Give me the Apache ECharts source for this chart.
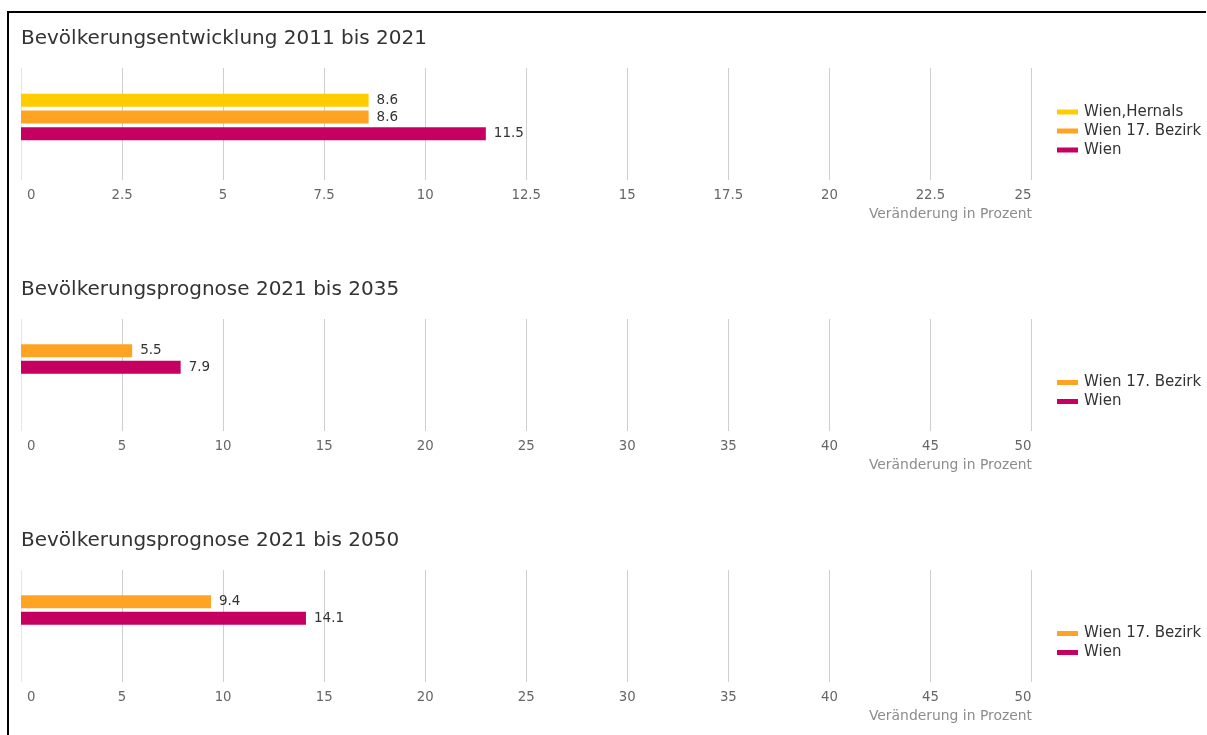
<!DOCTYPE html>
<html lang="de">
<head>
<meta charset="utf-8">
<title>Bevölkerungsentwicklung und -prognose</title>
<script src="https://cdn.jsdelivr.net/npm/echarts@6/dist/echarts.min.js"></script>
<style>
  html, body { margin: 0; padding: 0; background: #fff; }
  #chart { width: 1207px; height: 735px; }
  #frame {
    position: absolute; left: 7px; top: 11px; right: 1px; bottom: 0;
    border-left: 2px solid #000; border-top: 2px solid #000;
    pointer-events: none;
  }
</style>
</head>
<body>
<div id="chart"></div>
<div id="frame"></div>
<script>
// Panel titles and the shared axis caption
const panelTitles = [
  'Bevölkerungsentwicklung 2011 bis 2021',
  'Bevölkerungsprognose 2021 bis 2035',
  'Bevölkerungsprognose 2021 bis 2050'
];
const axisCaption = 'Veränderung in Prozent';

// Regions (series) and their colours
const regionNames = ['Wien,Hernals', 'Wien 17. Bezirk', 'Wien'];
const regionColors = ['#FFCC00', '#FFA322', '#C50061'];

// Change in percent per panel (null = not available for that region)
const entwicklung2011bis2021 = [8.6, 8.6, 11.5];
const prognose2021bis2035 = [null, 5.5, 7.9];
const prognose2021bis2050 = [null, 9.4, 14.1];
const panelValues = [entwicklung2011bis2021, prognose2021bis2035, prognose2021bis2050];

// Value axis range per panel
const axisMax = [25, 50, 50];
const axisInterval = [2.5, 5, 5];

const FONT = 'DejaVu Sans';
const panelTop = [68, 319, 570];
const gridHeight = 112;
const gridLeft = 21;
const gridRight = 175.5;

const chart = echarts.init(document.getElementById('chart'), null, { renderer: 'canvas' });

const grids = [], xAxes = [], yAxes = [], series = [], titles = [], legends = [];

panelTitles.forEach((t, p) => {
  const top = panelTop[p];
  const values = panelValues[p];
  const nLines = Math.round(axisMax[p] / axisInterval[p]) + 1;
  const lineColors = [];
  for (let i = 0; i < nLines; i++) lineColors.push(i === 0 ? '#e2e8f0' : '#cfcfcf');

  titles.push({
    text: t, left: gridLeft, top: top - 39, padding: 0,
    textStyle: { fontFamily: FONT, fontSize: 20, fontWeight: 'normal', color: '#333' }
  });
  titles.push({
    text: axisCaption, right: 175, top: top + 139, padding: 0,
    textStyle: { fontFamily: FONT, fontSize: 13.9, fontWeight: 'normal', color: '#8c8c8c' }
  });

  // grid carrying the split lines and tick labels
  grids.push({ left: gridLeft, right: gridRight, top: top, height: gridHeight });
  const gAxis = grids.length - 1;
  xAxes.push({
    type: 'value', gridIndex: gAxis, min: 0, max: axisMax[p], interval: axisInterval[p],
    axisLine: { show: false }, axisTick: { show: false },
    splitLine: { show: true, lineStyle: { color: lineColors, width: 1 } },
    axisLabel: {
      margin: 9, color: '#666', fontFamily: FONT, fontSize: 13.3,
      alignMinLabel: 'left', alignMaxLabel: 'right',
      formatter: v => (v === 0 ? '{first|0}' : String(v)),
      rich: { first: { padding: [0, 0, 0, 6], color: '#666', fontFamily: FONT, fontSize: 13.3 } }
    }
  });
  yAxes.push({ type: 'category', gridIndex: gAxis, data: [''], show: false });

  // grid carrying the bars
  grids.push({ left: gridLeft, right: gridRight, top: top + 24 + (p === 0 ? 0 : -9), height: 50 });
  const gBars = grids.length - 1;
  xAxes.push({ type: 'value', gridIndex: gBars, min: 0, max: axisMax[p], show: false, splitLine: { show: false } });
  yAxes.push({ type: 'category', gridIndex: gBars, data: [t], show: false, inverse: true });

  const legendNames = [];
  regionNames.forEach((name, r) => {
    if (values[r] === null) return;
    legendNames.push(name);
    series.push({
      type: 'bar', name: name, xAxisIndex: xAxes.length - 1, yAxisIndex: yAxes.length - 1,
      data: [values[r]], barWidth: 13, barGap: '28%',
      itemStyle: { color: regionColors[r] },
      label: {
        show: true, position: 'right', distance: 8,
        color: '#333', fontFamily: FONT, fontSize: 13.5
      },
      emphasis: { disabled: true }
    });
  });

  const n = legendNames.length;
  const legendCenter = p === 0 ? 131 : top + 73;
  legends.push({
    orient: 'vertical', left: 1057, top: legendCenter - (n * 19 - 4) / 2,
    padding: 0, itemGap: 4, itemWidth: 21, itemHeight: 5, icon: 'rect',
    data: legendNames,
    textStyle: { fontFamily: FONT, fontSize: 15, color: '#333', padding: [0, 0, 0, 1] }
  });
});

chart.setOption({
  animation: false,
  backgroundColor: '#fff',
  title: titles,
  legend: legends,
  grid: grids,
  xAxis: xAxes,
  yAxis: yAxes,
  series: series
});
</script>
</body>
</html>
